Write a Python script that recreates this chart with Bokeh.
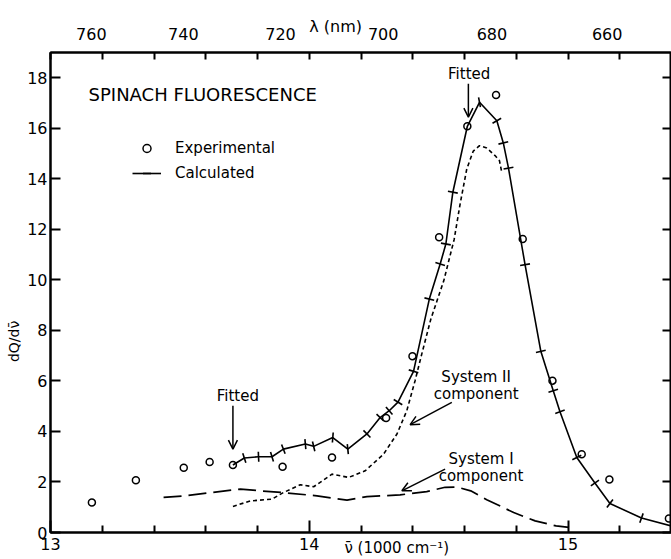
import math
from bokeh.plotting import figure
from bokeh.models import (Range1d, LinearAxis, FixedTicker, CustomJSTickFormatter,
                          ColumnDataSource, Label, Arrow, OpenHead,
                          Legend, LegendItem)
from bokeh.embed import file_html
from bokeh.resources import INLINE

FONT = "DejaVu Sans"
NB = "\u00a0"

# ---------------- data (wavenumber in 1000 cm^-1, dQ/dnu) ----------------
exp_nu = [13.16, 13.33, 13.515, 13.615, 13.705, 13.897, 14.088, 14.297, 14.399,
          14.502, 14.611, 14.722, 14.825, 14.94, 15.053, 15.16, 15.39]
exp_val = [1.19, 2.07, 2.56, 2.79, 2.67, 2.60, 2.97, 4.53, 6.98,
           11.69, 16.08, 17.32, 11.62, 6.01, 3.10, 2.10, 0.55]
fitted_nu = [13.705, 14.611]

calc_nu = [13.705, 13.749, 13.804, 13.856, 13.90, 13.985, 14.017, 14.091, 14.149,
           14.223, 14.274, 14.309, 14.343, 14.403, 14.464, 14.506, 14.528, 14.555,
           14.611, 14.658, 14.725, 14.75, 14.77, 14.834, 14.895, 14.943, 14.969,
           15.034, 15.104, 15.162, 15.284, 15.42]
calc_val = [2.67, 2.95, 3.00, 3.00, 3.30, 3.50, 3.41, 3.76, 3.30,
            3.90, 4.55, 4.82, 5.16, 6.38, 9.24, 10.63, 11.42, 13.47,
            16.08, 17.03, 16.30, 15.42, 14.42, 10.60, 7.17, 5.61, 4.78,
            2.97, 1.96, 1.15, 0.57, 0.20]

sys2_nu = [13.705, 13.772, 13.856, 13.90, 13.965, 14.017, 14.088, 14.152, 14.216,
           14.287, 14.339, 14.377, 14.409, 14.435, 14.47, 14.52, 14.56, 14.583,
           14.609, 14.634, 14.658, 14.686, 14.718, 14.735, 14.744]
sys2_val = [1.03, 1.25, 1.32, 1.58, 1.89, 1.81, 2.31, 2.18, 2.44,
            3.10, 3.90, 4.82, 6.01, 7.07, 8.45, 9.97, 11.6, 13.0,
            14.40, 15.10, 15.31, 15.22, 14.92, 14.72, 14.26]

sys1_nu = [13.437, 13.515, 13.62, 13.734, 13.81, 13.90, 14.03, 14.146, 14.223,
           14.351, 14.454, 14.525, 14.57, 14.624, 14.686, 14.79, 14.873, 14.954, 15.004]
sys1_val = [1.39, 1.45, 1.58, 1.72, 1.65, 1.58, 1.45, 1.28, 1.42,
            1.49, 1.62, 1.79, 1.80, 1.65, 1.30, 0.79, 0.46, 0.26, 0.20]

nu_ticks = [13, 14, 15]
nu_minor_ticks = [13.2, 13.4, 13.6, 13.8, 14.2, 14.4, 14.6, 14.8, 15.2]
lambda_labels = [760, 740, 720, 700, 680, 660]
y_ticks = [0, 2, 4, 6, 8, 10, 12, 14, 16, 18]

# ---------------- layout ----------------
W, H = 671, 559
BL, BR, BT, BB = 50, 0, 52, 27
X0, X1 = 13.0, 15.40
Y0, Y1 = 0.0, 19.0

p = figure(width=W, height=H, x_range=Range1d(X0, X1), y_range=Range1d(Y0, Y1),
           output_backend="svg", toolbar_location=None,
           x_axis_location=None, y_axis_location=None,
           min_border_left=BL, min_border_right=BR,
           min_border_top=BT, min_border_bottom=BB)
p.grid.visible = False
p.background_fill_color = "white"
p.border_fill_color = "white"
p.outline_line_color = "black"
p.outline_line_width = 2


def style(ax, tick_in, minor_in=0, label_size="16px", standoff=3):
    ax.axis_line_color = "black"
    ax.axis_line_width = 2
    ax.major_tick_line_color = "black"
    ax.major_tick_line_width = 2
    ax.minor_tick_line_color = "black"
    ax.minor_tick_line_width = 2
    ax.major_tick_in = tick_in
    ax.major_tick_out = 0
    ax.minor_tick_in = minor_in
    ax.minor_tick_out = 0
    ax.major_label_text_font = FONT
    ax.major_label_text_font_size = label_size
    ax.major_label_text_color = "black"
    ax.major_label_standoff = standoff
    ax.axis_label_text_font = FONT
    ax.axis_label_text_font_style = "normal"
    ax.axis_label_text_color = "black"


bottom = LinearAxis(ticker=FixedTicker(ticks=nu_ticks, minor_ticks=nu_minor_ticks))
style(bottom, 12, 7, "16px", 5)
bottom.axis_label = NB * 15 + "\u03bd\u0304 (1000 cm\u207b\u00b9)"
bottom.axis_label_text_font_size = "15px"
bottom.axis_label_standoff = -14
p.add_layout(bottom, "below")

top = LinearAxis(ticker=FixedTicker(ticks=[1e4 / l for l in lambda_labels],
                                    minor_ticks=nu_minor_ticks + nu_ticks),
                 formatter=CustomJSTickFormatter(code="return Math.round(10000/tick).toString()"))
style(top, 0, 7, "16px", 13)
top.axis_label = "\u03bb (nm)" + NB * 10
top.axis_label_text_font_size = "16px"
top.axis_label_standoff = -11
p.add_layout(top, "above")

left = LinearAxis(ticker=FixedTicker(ticks=y_ticks))
style(left, 10, 0, "16px", 3)
left.axis_label = "dQ/d\u03bd\u0304" + NB * 22
left.axis_label_text_font_size = "14px"
left.axis_label_standoff = 2
p.add_layout(left, "left")

right = LinearAxis(ticker=FixedTicker(ticks=y_ticks),
                   formatter=CustomJSTickFormatter(code="return ''"))
style(right, 9, 0, "16px", 0)
p.add_layout(right, "right")

# ---------------- curves ----------------
p.line(sys1_nu, sys1_val, line_color="black", line_width=1.7, line_dash="18 7")
p.line(sys2_nu, sys2_val, line_color="black", line_width=1.6, line_dash="4 3")
calc_line = p.line(calc_nu, calc_val, line_color="black", line_width=1.6)

# perpendicular tick marks on the calculated curve
sx = (W - BL - BR) / (X1 - X0)
sy = (H - BT - BB) / (Y1 - Y0)
tick_x, tick_y, tick_a = [], [], []
n = len(calc_nu)
for i in range(n):
    if calc_nu[i] in fitted_nu:
        continue
    i0, i1 = max(i - 1, 0), min(i + 1, n - 1)
    dx = (calc_nu[i1] - calc_nu[i0]) * sx
    dy = (calc_val[i1] - calc_val[i0]) * sy
    tick_x.append(calc_nu[i])
    tick_y.append(calc_val[i])
    tick_a.append(math.atan2(dy, dx) + math.pi / 2)
tick_src = ColumnDataSource(dict(x=tick_x, y=tick_y, a=tick_a))
calc_ticks = p.scatter("x", "y", source=tick_src, marker="dash", size=10, angle="a",
                       line_color="black", line_width=1.6)

circ = p.scatter(exp_nu, exp_val, marker="circle", size=7, fill_color=None,
                 line_color="black", line_width=1.5)

# ---------------- legend ----------------
legend = Legend(items=[LegendItem(label="Experimental", renderers=[circ]),
                       LegendItem(label="Calculated", renderers=[calc_line, calc_ticks])],
                location=(82, 349), glyph_width=29, glyph_height=20, label_height=20,
                label_standoff=14, spacing=5, padding=0, margin=0,
                border_line_color=None, background_fill_alpha=0,
                label_text_font=FONT, label_text_font_size="15px", label_text_color="black")
p.add_layout(legend)


# ---------------- texts in the frame ----------------
def lab(x, y, text, size="15px", align="center", baseline="middle"):
    p.add_layout(Label(x=x, y=y, text=text, text_font=FONT, text_font_size=size,
                       text_align=align, text_baseline=baseline, text_color="black"))


lab(13.147, 17.33, "SPINACH FLUORESCENCE", "18px", "left")
lab(14.618, 18.16, "Fitted")
lab(13.724, 5.41, "Fitted")
lab(14.645, 6.15, "System II")
lab(14.645, 5.49, "component")
lab(14.664, 2.92, "System I")
lab(14.664, 2.25, "component")


# ---------------- arrows ----------------
def arrow(x0, y0, x1, y1):
    p.add_layout(Arrow(end=OpenHead(size=9, line_width=1.5, line_color="black"),
                       x_start=x0, y_start=y0, x_end=x1, y_end=y1,
                       line_width=1.5, line_color="black"))


arrow(14.615, 17.76, 14.615, 16.44)
arrow(13.705, 5.02, 13.705, 3.30)
arrow(14.551, 5.15, 14.390, 4.27)
arrow(14.525, 2.51, 14.358, 1.65)

open("out.html", "w").write(file_html(p, INLINE))
